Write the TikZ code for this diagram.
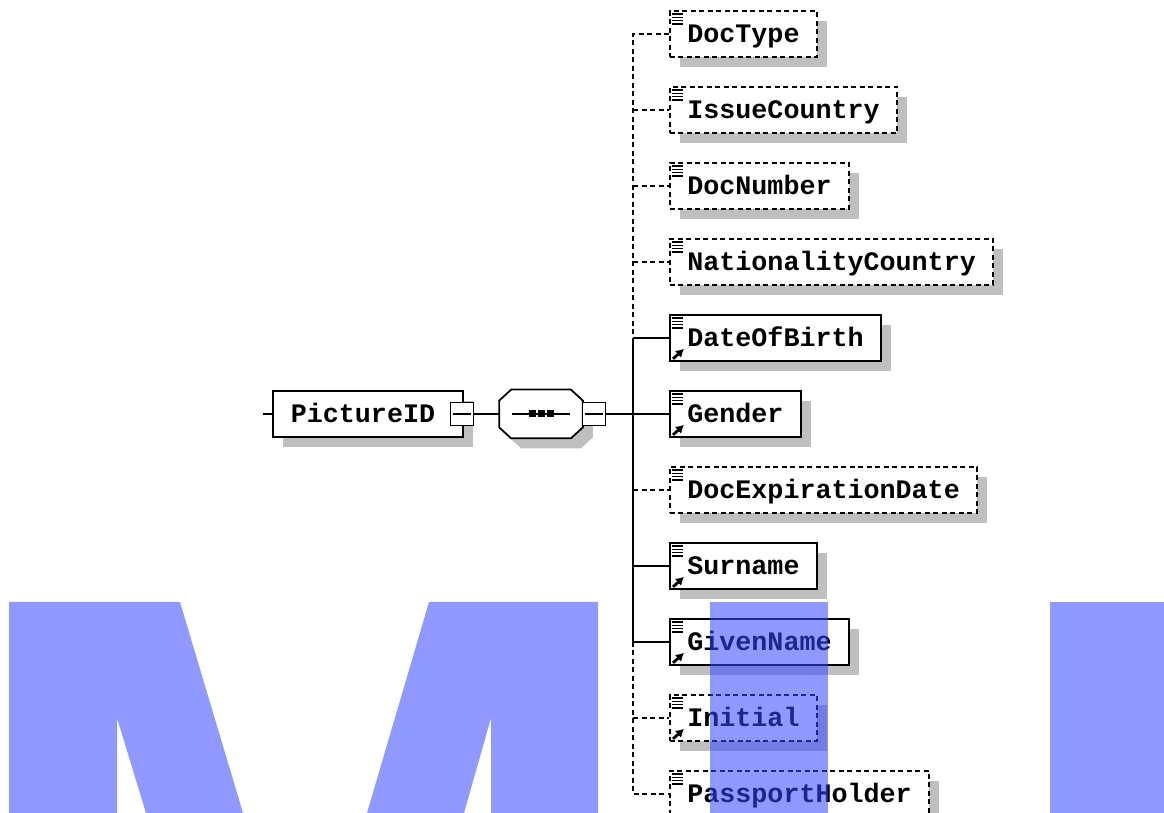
\documentclass[tikz,border=0pt]{standalone}
\usepackage{fontspec}
\newfontfamily\xsdfont{Liberation Mono}
\usetikzlibrary{shadows,arrows.meta}

\begin{document}
\begin{tikzpicture}[x=0.02cm, y=-0.02cm, line width=1pt,
  font=\xsdfont\bfseries\fontsize{15.2pt}{18pt}\selectfont,
  boxshadow/.style={drop shadow={shadow xshift=0.2cm, shadow yshift=-0.2cm, fill=black!25, opacity=1}},
  elem/.style={draw, fill=white, boxshadow, anchor=west, minimum height=0.92cm,
    inner xsep=0.35cm, text height=0.44cm, text depth=0.08cm},
  optelem/.style={elem, dash pattern=on 0.1cm off 0.07cm},
  optline/.style={dash pattern=on 0.1cm off 0.07cm},
  minusbox/.style={draw, fill=white, minimum size=0.46cm, inner sep=0pt},
  wmark/.style={fill={rgb,255:red,51;green,70;blue,255}, fill opacity=0.55}]
\useasboundingbox (0,0) rectangle (1164,813);

% root element and sequence
\coordinate (stub) at (263,414);
\node[elem, text width=3.08cm, inner xsep=0.36cm, align=left] (picid) at (272,414) {PictureID};
\node[minusbox] (picmin) at (462,414) {};
\draw ([xshift=0.06cm]picmin.west) -- ([xshift=-0.06cm]picmin.east);
\node[minimum width=1.64cm, minimum height=0.94cm, inner sep=0pt] (seq) at (541,414) {};
\draw[fill=white, boxshadow] ([xshift=0.24cm]seq.north west) -- ([xshift=-0.24cm]seq.north east)
  -- ([yshift=-0.22cm]seq.north east) -- ([yshift=0.22cm]seq.south east)
  -- ([xshift=-0.24cm]seq.south east) -- ([xshift=0.24cm]seq.south west)
  -- ([yshift=0.22cm]seq.south west) -- ([yshift=-0.22cm]seq.north west) -- cycle;
\draw ([xshift=-0.58cm]seq.center) -- ([xshift=0.58cm]seq.center);
\foreach \dx in {-0.18,0,0.18}
  \fill ([xshift=\dx cm]seq.center) ++(-0.07cm,-0.07cm) rectangle ++(0.14cm,0.14cm);
\node[minusbox] (seqmin) at (594,414) {};
\draw ([xshift=0.06cm]seqmin.west) -- ([xshift=-0.06cm]seqmin.east);
\draw (stub) -- (picid.west);
\draw (picmin.east) -- (seq.west);

% child elements
\node[optelem] (doctype) at (669,34)  {DocType};
\node[optelem] (issue)   at (669,110) {IssueCountry};
\node[optelem] (docnum)  at (669,186) {DocNumber};
\node[optelem] (nation)  at (669,262) {NationalityCountry};
\node[elem]    (birth)   at (669,338) {DateOfBirth};
\node[elem]    (gender)  at (669,414) {Gender};
\node[optelem] (expiry)  at (669,490) {DocExpirationDate};
\node[elem]    (surname) at (669,566) {Surname};
\node[elem]    (given)   at (669,642) {GivenName};
\node[optelem] (initial) at (669,718) {Initial};
\node[optelem] (holder)  at (669,794) {PassportHolder};

% icons
\foreach \n in {doctype,issue,docnum,nation,birth,gender,expiry,surname,given,initial,holder}
  \foreach \k in {0,...,3}
    \draw[line width=0.9pt] ([xshift=0.06cm, yshift=-0.08cm-\k*0.065cm]\n.north west) -- ++(0.22cm,0);
\foreach \n in {birth,gender,surname,given,initial}
  \draw[line width=1.6pt, -{Latex[length=0.16cm,width=0.19cm]}]
    ([xshift=0.08cm, yshift=0.06cm]\n.south west) -- ++(0.22cm,0.2cm);

% trunk
\coordinate (trunk) at (633,414);
\draw[optline] (doctype.west) -| (trunk |- birth.west);
\draw (trunk |- birth.west) -- (trunk |- given.west);
\draw[optline] (trunk |- given.west) |- (holder.west);
\foreach \n in {issue,docnum,nation,expiry,initial}
  \draw[optline] (trunk |- \n.west) -- (\n.west);
\foreach \n in {birth,surname,given}
  \draw (trunk |- \n.west) -- (\n.west);
\draw (seqmin.east) -- (gender.west);

% overlay
\fill[wmark] (9,602) -- (180,602) -- (243,813) -- (146,813) -- (117,718) -- (117,813) -- (9,813) -- cycle;
\fill[wmark] (429,602) -- (598,602) -- (598,813) -- (491,813) -- (491,718) -- (464,813) -- (367,813) -- cycle;
\fill[wmark] (710,602) rectangle (828,813);
\fill[wmark] (1050,602) rectangle (1164,813);
\end{tikzpicture}
\end{document}
